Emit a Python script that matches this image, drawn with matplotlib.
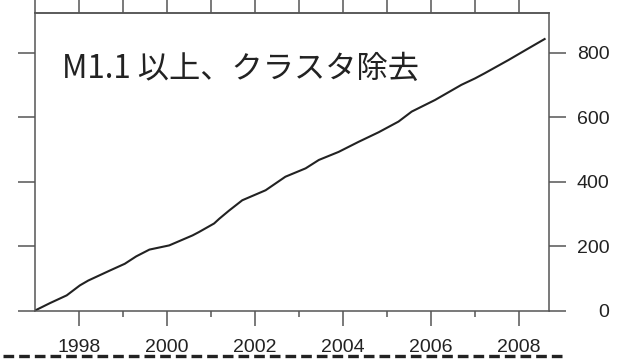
import matplotlib
matplotlib.use("Agg")
import matplotlib.pyplot as plt
from matplotlib.lines import Line2D

# cumulative number of events (M>=1.1, declustered)
years = [1997.00, 1997.34, 1997.72, 1998.02, 1998.21, 1998.70, 1999.04, 1999.30,
         1999.60, 2000.05, 2000.58, 2000.72, 2001.07, 2001.19, 2001.41, 2001.71,
         2002.24, 2002.69, 2003.15, 2003.45, 2003.90, 2004.35, 2004.81, 2005.26,
         2005.56, 2006.09, 2006.69, 2007.00, 2007.22, 2007.76, 2008.20, 2008.58]
counts = [0, 23, 47, 78, 93, 124, 145, 168,
          189, 202, 233, 243, 270, 285, 310, 342,
          373, 415, 441, 467, 492, 523, 553, 586,
          617, 653, 700, 720, 736, 777, 812, 842]

year_labels = ["1998", "2000", "2002", "2004", "2006", "2008"]
year_ticks = [1998, 2000, 2002, 2004, 2006, 2008]
odd_years = [1999, 2001, 2003, 2005, 2007]
all_years = list(range(1997, 2009))
y_ticks = [0, 200, 400, 600, 800]
title = "M1.1 以上、クラスタ除去"

axc = "#555555"

fig = plt.figure(figsize=(6.25, 3.59), dpi=100)
ax = fig.add_axes([0.056, 0.135, 0.8224, 0.829])

ax.plot(years, counts, color="#222222", lw=1.5)

ax.set_xlim(1997, 2008.68)
ax.set_ylim(0, 923)

for s in ax.spines.values():
    s.set_color(axc)
    s.set_linewidth(1.1)

# bottom ticks
ax.set_xticks(year_ticks)
ax.set_xticklabels(year_labels, fontfamily="Liberation Sans", fontsize=14, color="#222222")
ax.set_xticks(odd_years, minor=True)
ax.tick_params(axis="x", which="major", direction="out", length=10.8, width=1.1,
               color=axc, pad=10)
ax.tick_params(axis="x", which="minor", direction="out", length=4.3, width=1.1, color=axc)

# top ticks every year
top = ax.secondary_xaxis("top")
top.set_xticks(all_years)
top.set_xticklabels([])
top.tick_params(direction="out", length=11, width=1.1, color=axc)
top.spines["top"].set_color(axc)
top.spines["top"].set_linewidth(1.1)

# y ticks: left without labels, right with labels
ax.set_yticks(y_ticks)
ax.tick_params(axis="y", which="both", left=True, right=True, labelleft=False,
               labelright=True, direction="out", width=1.1, color=axc)
ax.yaxis.set_tick_params(length=12)
ax.tick_params(axis="y", pad=31.5, labelsize=14, labelcolor="#222222")
for lbl in ax.get_yticklabels():
    lbl.set_ha("right")
    lbl.set_fontfamily("Liberation Sans")

ax.text(0.0525, 0.811, title, transform=ax.transAxes, ha="left", va="center",
        fontsize=22.5, color="#222222", family=["Noto Sans CJK JP", "DejaVu Sans"])

# dashed cut line at bottom of the scan
fig.add_artist(Line2D([3 / 625, 567 / 625], [1 - 356 / 359, 1 - 356 / 359],
                      transform=fig.transFigure, color="#222222", lw=2.4,
                      linestyle=(0, (3.2, 1.5))))

fig.savefig("out.png", dpi=100)
